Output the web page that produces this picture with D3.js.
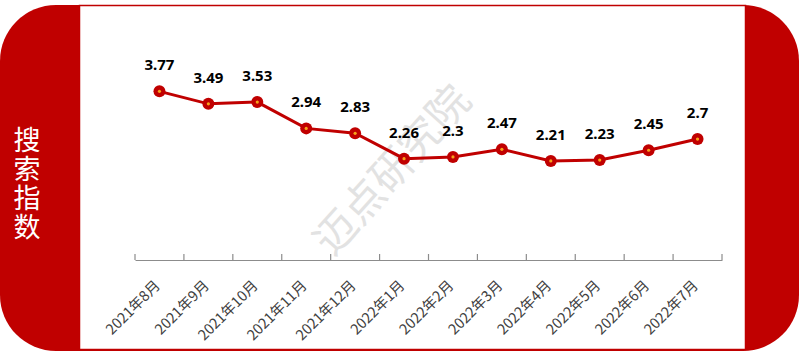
<!DOCTYPE html>
<html>
<head>
<meta charset="utf-8">
<script src="https://cdn.jsdelivr.net/npm/d3@7"></script>
<style>
  body { margin: 0; background: #fff; }
  svg { display: block; }
</style>
</head>
<body>
<div id="chart"></div>
<script>
// data
var months = ["2021年8月", "2021年9月", "2021年10月", "2021年11月", "2021年12月", "2022年1月",
  "2022年2月", "2022年3月", "2022年4月", "2022年5月", "2022年6月", "2022年7月"];
var values = [3.77, 3.49, 3.53, 2.94, 2.83, 2.26, 2.3, 2.47, 2.21, 2.23, 2.45, 2.7];
var yTitle = "搜索指数";
var watermark = "迈点研究院";

var W = 800, H = 355,
  red = "#c00000";

var svg = d3.select("#chart").append("svg")
  .attr("width", W)
  .attr("height", H);

// red frame with round ends
svg.append("rect")
  .attr("x", 0).attr("y", 5)
  .attr("width", 799).attr("height", 346)
  .attr("rx", 56).attr("ry", 56)
  .attr("fill", red);

// white panel
svg.append("rect")
  .attr("x", 79.5).attr("y", 5.5)
  .attr("width", 666).attr("height", 344)
  .attr("fill", "#fff")
  .attr("stroke", red)
  .attr("stroke-width", 1.5);

// title, written top to bottom
svg.append("text")
  .attr("x", 27)
  .attr("y", 126)
  .attr("writing-mode", "vertical-rl")
  .attr("fill", "#fff")
  .attr("font-family", "'Noto Sans CJK SC', sans-serif")
  .attr("font-size", 27)
  .attr("letter-spacing", 2)
  .text(yTitle);

// watermark
svg.append("text")
  .attr("transform", "translate(392,170) rotate(-48)")
  .attr("text-anchor", "middle")
  .attr("dy", "0.35em")
  .attr("fill", "#e2e2e2")
  .attr("font-family", "'Noto Sans CJK SC', sans-serif")
  .attr("font-size", 42)
  .text(watermark);

// scales
var x = d3.scaleBand()
  .domain(months)
  .range([135, 722]);
var y = d3.scaleLinear()
  .domain([0, 4.5])
  .range([259.5, 58.8]);

// x axis
var xAxis = d3.axisBottom(x).tickSize(0).tickFormat("");
var gx = svg.append("g")
  .attr("transform", "translate(0,260)")
  .call(xAxis);
gx.select(".domain").attr("stroke", "#8c8c8c").attr("stroke-width", 1.2);

// tick marks on band edges, pointing up
svg.append("g").selectAll("line")
  .data(months.concat(["end"]))
  .enter().append("line")
  .attr("x1", function(d, i) { return 135 + i * x.step(); })
  .attr("x2", function(d, i) { return 135 + i * x.step(); })
  .attr("y1", 254)
  .attr("y2", 260)
  .attr("stroke", "#8c8c8c")
  .attr("stroke-width", 1.2);

svg.append("g").selectAll("text")
  .data(months)
  .enter().append("text")
  .attr("transform", function(d) {
    return "translate(" + (x(d) + x.bandwidth() / 2 - 2) + ",283) rotate(-45)";
  })
  .attr("text-anchor", "end")
  .attr("dy", "0.35em")
  .attr("fill", "#404040")
  .attr("font-family", "'Noto Sans CJK SC', sans-serif")
  .attr("font-size", 14.5)
  .text(function(d) { return d; });

// line
var line = d3.line()
  .x(function(d, i) { return x(months[i]) + x.bandwidth() / 2; })
  .y(function(d) { return y(d); });

svg.append("path")
  .datum(values)
  .attr("d", line)
  .attr("fill", "none")
  .attr("stroke", red)
  .attr("stroke-width", 3);

// markers
var pts = svg.append("g").selectAll("g")
  .data(values)
  .enter().append("g")
  .attr("transform", function(d, i) {
    return "translate(" + (x(months[i]) + x.bandwidth() / 2) + "," + y(d) + ")";
  });
pts.append("circle").attr("r", 6).attr("fill", red);
pts.append("circle").attr("r", 1.6).attr("fill", "#f7a21b");

// value labels
pts.append("text")
  .attr("y", -21)
  .attr("text-anchor", "middle")
  .attr("fill", "#000")
  .attr("font-family", "'Noto Sans', sans-serif")
  .attr("font-weight", "bold")
  .attr("font-size", 15)
  .text(function(d) { return d; });
</script>
</body>
</html>
